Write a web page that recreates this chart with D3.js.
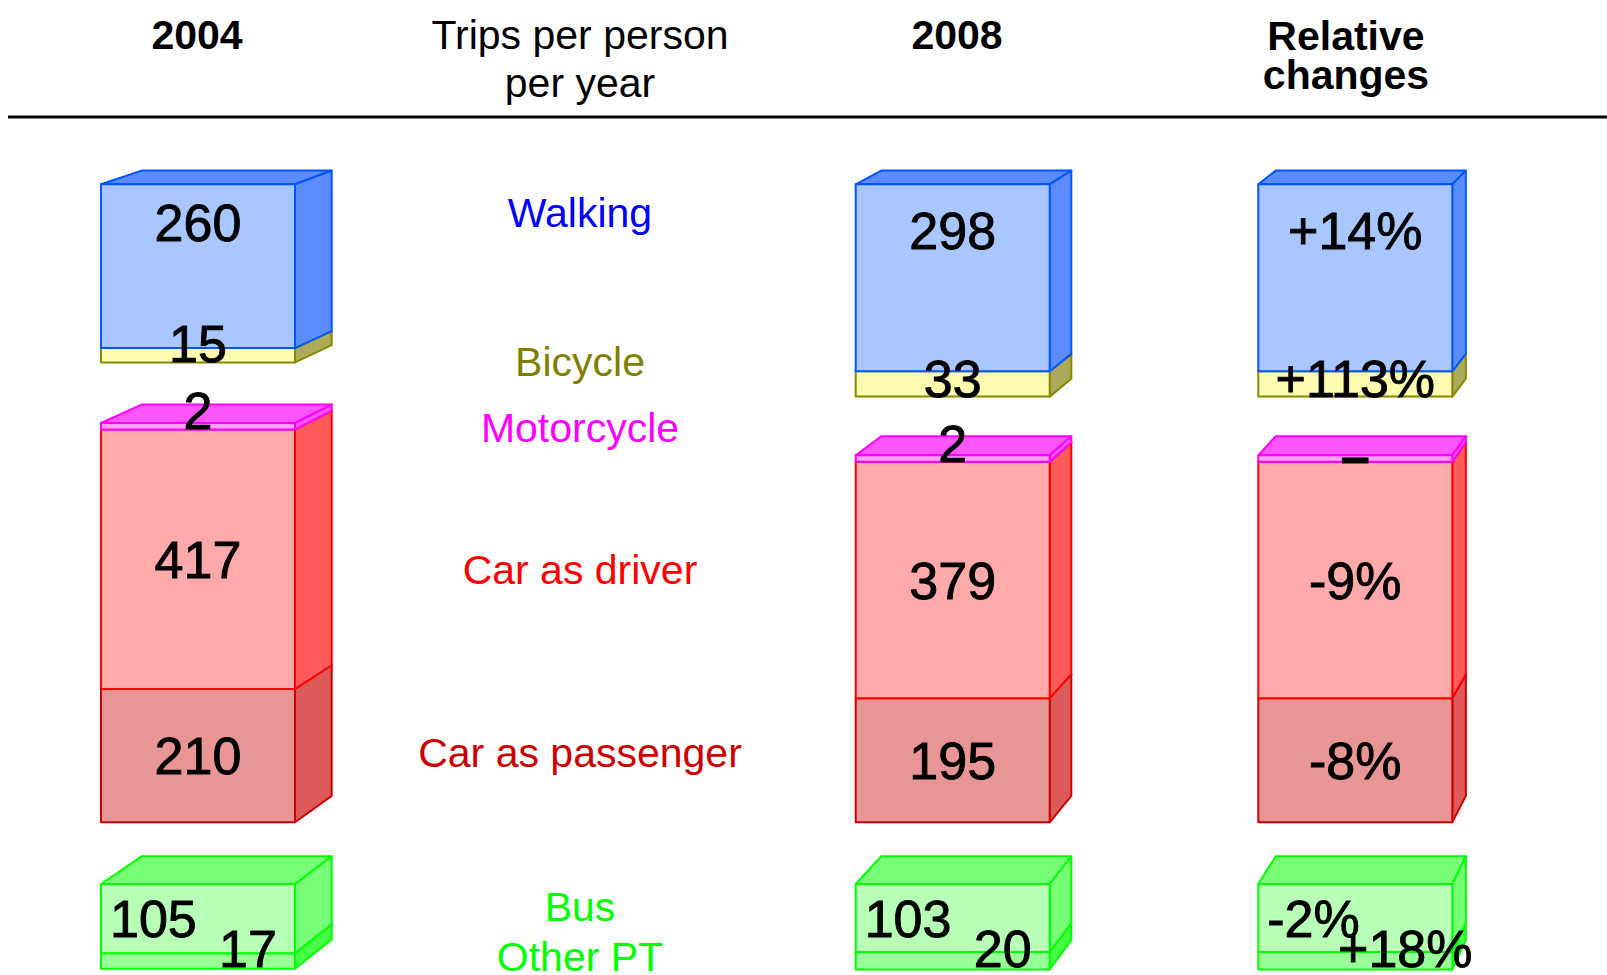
<!DOCTYPE html>
<html><head><meta charset="utf-8">
<script src="https://cdn.jsdelivr.net/npm/d3@7"></script>
<style>html,body{margin:0;padding:0;background:#fff;} svg{display:block}</style>
</head><body>
<svg id="chart" width="1607" height="975"></svg>
<script>
// ---------------- data ----------------
const categories = ["Walking", "Bicycle", "Motorcycle", "Car as driver", "Car as passenger", "Bus", "Other PT"];
const trips2004 = [260, 15, 2, 417, 210, 105, 17];
const trips2008 = [298, 33, 2, 379, 195, 103, 20];
const relativeChanges = ["+14%", "+113%", "–", "-9%", "-8%", "-2%", "+18%"];
const modeGroups = [0, 0, 1, 1, 1, 2, 2];
const columnHeaders = [["2004"], ["Trips per person", "per year"], ["2008"], ["Relative", "changes"]];

// ---------------- styles ----------------
const frontFill = ["#aac6ff", "#fffcb0", "#ffa0ff", "#ffaaaa", "#e89595", "#b8ffb8", "#99ff99"];
const sideFill  = ["#5a8cff", "#aaaa5a", "#ff55ff", "#ff5a5a", "#dc5a5a", "#77ff77", "#44ff44"];
const edgeColor = ["#0055ff", "#888800", "#ff00ff", "#ff0000", "#cc0000", "#00ff00", "#00ff00"];
const textColor = ["#0000ff", "#808000", "#ff00ff", "#ff0000", "#cc0000", "#00ff00", "#00ff00"];
const FONT = "'Liberation Sans', Arial, Helvetica, sans-serif";

// ---------------- layout ----------------
const svg = d3.select("#chart");
const hScale = d3.scaleLinear().domain([0, 100]).range([5.2, 66.2]);   // trips -> box height
const boxLeft = d3.scaleOrdinal().domain(["2004", "2008", "rel"]).range([101, 855.7, 1258.3]);
const boxW = 194;
const headerX = d3.scaleOrdinal().domain([0, 1, 2, 3]).range([197, 580, 957, 1346]);
const groupAnchor = [{y: 184.3, dir: "down"}, {y: 822.3, dir: "up"}, {y: 884, dir: "down"}];
const VP = {x: 2130, y: -500}, depth = 0.02;
const labelMode = ["top", "bottom", "bottom", "center", "center", "left", "right"];
const catNudge = [-14, 0, 0, 0, -6, -12, 8];
const valueFS = 52, labelFS = 41;

const bp = (x, y) => [x + depth * (VP.x - x), y + depth * (VP.y - y)];

function layout(values) {
  const segs = values.map((v, i) => ({i, v, h: hScale(v), g: modeGroups[i]}));
  [0, 1, 2].forEach(g => {
    const s = segs.filter(d => d.g === g);
    const a = groupAnchor[g];
    let y = a.y;
    if (a.dir === "down") s.forEach(d => { d.y0 = y; d.y1 = y + d.h; y = d.y1; });
    else s.slice().reverse().forEach(d => { d.y1 = y; d.y0 = y - d.h; y = d.y0; });
  });
  return segs;
}

const columns = [
  {key: "2004", values: trips2004, labels: trips2004.map(String)},
  {key: "2008", values: trips2008, labels: trips2008.map(String)},
  {key: "rel",  values: trips2008, labels: relativeChanges}
];

const line = d3.line();
const boxLayer = svg.append("g");
const textLayer = svg.append("g");
const labelCenters = categories.map(() => []);

columns.forEach((col, ci) => {
  const segs = layout(col.values);
  const x0 = boxLeft(col.key), x1 = x0 + boxW;
  const order = segs.slice().sort((a, b) => b.y0 - a.y0);
  order.forEach(d => {
    const g = boxLayer.append("g")
      .attr("stroke", edgeColor[d.i]).attr("stroke-width", 2).attr("stroke-linejoin", "round");
    g.append("path").attr("fill", sideFill[d.i])
      .attr("d", line([[x0, d.y0], [x1, d.y0], bp(x1, d.y0), bp(x0, d.y0)]) + "Z");
    g.append("path").attr("fill", sideFill[d.i])
      .attr("d", line([[x1, d.y0], bp(x1, d.y0), bp(x1, d.y1), [x1, d.y1]]) + "Z");
    g.append("rect").attr("x", x0).attr("y", d.y0).attr("width", boxW).attr("height", d.y1 - d.y0)
      .attr("fill", frontFill[d.i]);
  });
  segs.forEach(d => {
    const cx = (x0 + x1) / 2;
    const cap = 0.358 * valueFS;
    let x = cx, y, anchor = "middle";
    switch (labelMode[d.i]) {
      case "top": y = d.y0 + 0.345 * d.h; break;
      case "bottom": y = d.y1; break;
      case "center": y = (d.y0 + d.y1) / 2 + cap; break;
      case "left": x = x0 + 9; anchor = "start"; y = d.y0 + 53; break;
      case "right": x = cx + 50; y = d.y1 - 2; break;
    }
    const txt = col.labels[d.i];
    if (ci < 2) labelCenters[d.i].push(y - cap);
    const t = textLayer.append("text")
      .attr("x", x).attr("y", y).attr("text-anchor", anchor)
      .attr("font-family", FONT).attr("font-size", valueFS).attr("fill", "#000")
      .attr("stroke", "#000").attr("stroke-width", 0.9)
      .text(txt);
    if (txt === "–") t.attr("font-weight", "bold").attr("dy", "0.24em");
  });
});

// category labels
categories.forEach((c, i) => {
  const y = d3.mean(labelCenters[i]) + catNudge[i] + 0.358 * labelFS;
  textLayer.append("text")
    .attr("x", 580).attr("y", y).attr("text-anchor", "middle")
    .attr("font-family", FONT).attr("font-size", labelFS).attr("fill", textColor[i])
    .text(c);
});

// header
const headerBaselines = [[48.5], [48.5, 96.5], [48.5], [49.5, 89]];
columnHeaders.forEach((lines, ci) => {
  lines.forEach((l, li) => {
    svg.append("text")
      .attr("x", headerX(ci)).attr("y", headerBaselines[ci][li]).attr("text-anchor", "middle")
      .attr("font-family", FONT).attr("font-size", labelFS)
      .attr("font-weight", ci === 1 ? "normal" : "bold").attr("fill", "#000")
      .text(l);
  });
});
svg.append("line").attr("x1", 8).attr("x2", 1607).attr("y1", 117).attr("y2", 117)
  .attr("stroke", "#000").attr("stroke-width", 3);
</script>
</body></html>
